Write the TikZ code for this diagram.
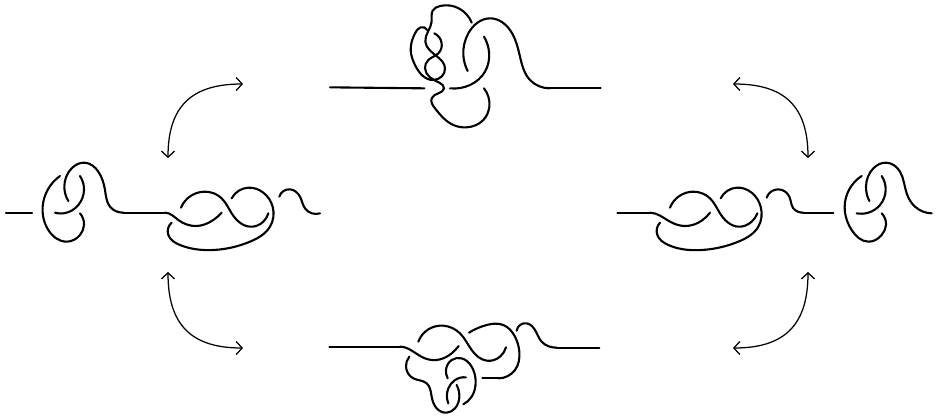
\documentclass[tikz,border=0pt]{standalone}
\usetikzlibrary{arrows.meta,hobby}
\begin{document}
\begin{tikzpicture}[x=1pt,y=-1pt,
      knotline/.style={line width=2.1pt, line cap=round, line join=round, use Hobby shortcut},
      move/.style={line width=1.25pt, looseness=1.25, {Straight Barb[length=6pt,width=13pt,line width=1.25pt]}-{Straight Barb[length=6pt,width=13pt,line width=1.25pt]}}]
    \useasboundingbox (0,0) rectangle (939,416);
    \coordinate (midleft) at (168,158);
    \coordinate (topleft) at (243,84);
    \coordinate (topright) at (733,84);
    \coordinate (midright) at (808,158);
    \coordinate (lowleft) at (168,272);
    \coordinate (botleft) at (243,348);
    \coordinate (botright) at (733,348);
    \coordinate (lowright) at (808,272);
    \draw[move] (midleft) to[out=90,in=180] (topleft);
    \draw[move] (topright) to[out=0,in=90] (midright);
    \draw[move] (lowleft) to[out=-90,in=180] (botleft);
    \draw[move] (botright) to[out=0,in=-90] (lowright);
    \begin{scope}[shift={(320,0)},scale=1/3]
      \draw[knotline] (30,262) -- (313,265);
      \draw[knotline] (455,68) .. (360,18) .. (338,32) .. (335,65) .. (316,125) .. (352,170) .. (375,205) .. (340,240) .. (285,195) .. (272,150) .. (285,100) .. (302,82) .. (322,90);
      \draw[knotline] (343,100) .. (365,130) .. (355,160) .. (325,180) .. (315,205) .. (330,232) .. (358,248) .. (372,265) .. (355,280) .. (335,295) .. (345,325) .. (400,375) .. (440,382) .. (490,360) .. (508,320) .. (492,265);
      \draw[knotline] (443,213) .. (430,165) .. (445,100) .. (510,55) .. (570,90) .. (600,170) .. (630,240) .. ([in angle=180]690,265);
      \draw[knotline] (690,265) -- (842,265);
      \draw[knotline] (492,110) .. (507,155) .. (495,215) .. (450,255) .. (390,265);
    \end{scope}
    \begin{scope}[shift={(0,150)},scale=1/3]
      \draw[knotline] (18,188) -- (96,188);
      \draw[knotline] (180,78) .. (128,170) .. (145,240) .. (200,275) .. (240,255) .. (252,225) .. (240,190);
      \draw[knotline] (205,153) .. (193,110) .. (215,55) .. (255,38) .. (295,65) .. (315,120) .. (330,170) .. ([in angle=180]370,188);
      \draw[knotline] (370,188) -- (495,188);
      \draw[knotline] ([out angle=0]495,188) .. (535,210) .. (590,228) .. (640,210) .. (665,188);
      \draw[knotline] (240,78) .. (252,120) .. (235,165) .. (200,188) .. (165,188);
      \draw[knotline] (543,173) .. (615,125) .. (665,145) .. (695,190) .. (750,230) .. (790,215) .. (805,190);
      \draw[knotline] (695,145) .. (745,113) .. (790,128) .. (818,170) .. (810,230) .. (750,275) .. (640,300) .. (540,285) .. (505,255) .. (515,218);
      \draw[knotline] (838,140) .. (870,118) .. (900,140) .. (915,175) .. (960,190);
    \end{scope}
    \begin{scope}[shift={(610,150)},scale=1/3]
      \draw[knotline] (22,188) -- (120,188);
      \draw[knotline] ([out angle=0]120,188) .. (180,215) .. (225,228) .. (275,212) .. (300,188);
      \draw[knotline] (180,173) .. (250,125) .. (300,145) .. (330,190) .. (385,230) .. (425,215) .. (442,190);
      \draw[knotline] (332,145) .. (380,113) .. (425,128) .. (452,170) .. (445,230) .. (385,275) .. (275,300) .. (175,285) .. (142,255) .. (150,218);
      \draw[knotline] (470,143) .. (505,118) .. (538,140) .. (550,175) .. ([in angle=180]580,188);
      \draw[knotline] (580,188) -- (670,188);
      \draw[knotline] (755,78) .. (704,170) .. (725,240) .. (775,275) .. (815,255) .. (828,225) .. (815,190);
      \draw[knotline] (778,153) .. (768,110) .. (790,55) .. (830,38) .. (870,65) .. (890,130) .. (915,170) .. (965,190);
      \draw[knotline] (815,78) .. (827,120) .. (810,165) .. (775,188) .. (740,190);
    \end{scope}
    \begin{scope}[shift={(320,310)},scale=1/3]
      \draw[knotline] (28,110) -- (240,110);
      \draw[knotline] ([out angle=0]240,110) .. (310,143) .. (350,150) .. (395,130) .. (416,108);
      \draw[knotline] (295,95) .. (325,58) .. (370,47) .. (420,70) .. (455,120) .. (500,152) .. (540,140) .. (558,112);
      \draw[knotline] (447,68) .. (500,45) .. (550,45) .. (585,80) .. (598,125) .. (585,180) .. ([in angle=0]535,205);
      \draw[knotline] (535,205) -- (487,205);
      \draw[knotline] (590,62) .. (620,40) .. (645,60) .. (665,95) .. ([in angle=180]710,113);
      \draw[knotline] (710,113) -- (838,113);
      \draw[knotline] (268,140) .. (258,170) .. (280,205) .. (320,220) .. (335,260) .. (350,295) .. (380,308) .. (405,295) .. (418,260) .. (410,225);
      \draw[knotline] (383,205) .. (378,180) .. (395,150) .. (425,145) .. (455,170) .. (467,215) .. (455,260) .. (430,283);
      \draw[knotline] (438,202) .. (405,210) .. (385,235) .. (385,280);
    \end{scope}
  \end{tikzpicture}
\end{document}
